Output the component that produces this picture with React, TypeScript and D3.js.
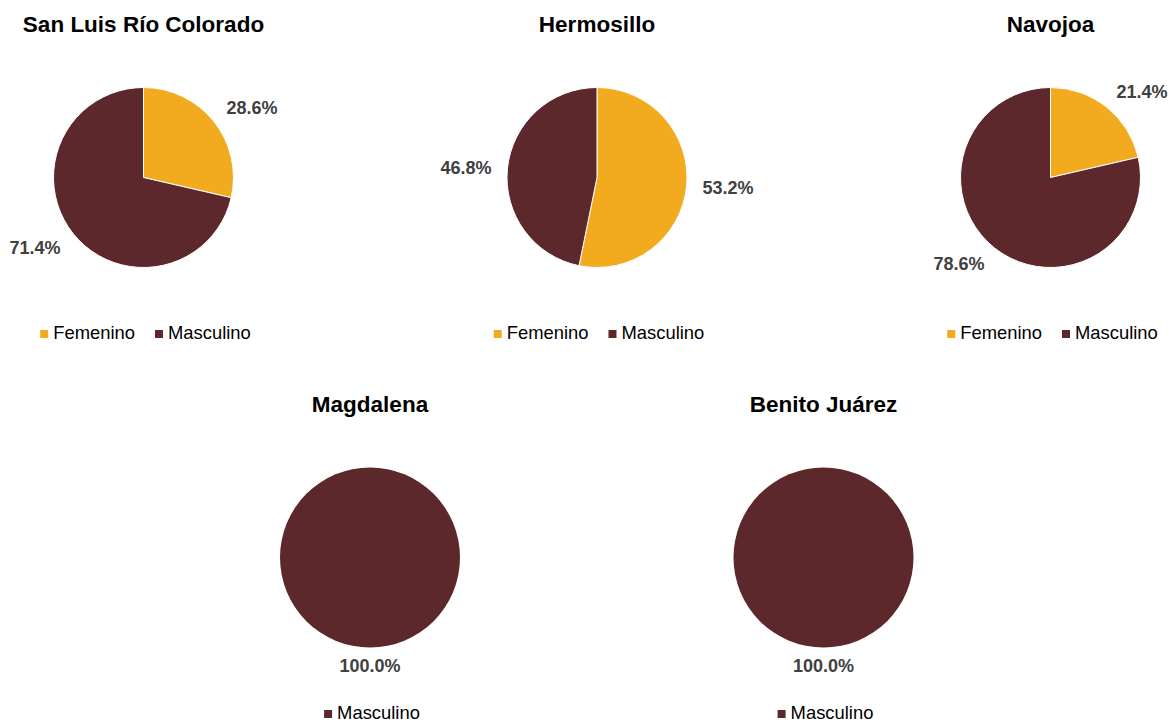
import React from "react";
import * as d3 from "d3";

const municipios = ["San Luis Río Colorado", "Hermosillo", "Navojoa", "Magdalena", "Benito Juárez"];
const categorias = ["Femenino", "Masculino"];
const femenino = [28.6, 53.2, 21.4, 0, 0];
const masculino = [71.4, 46.8, 78.6, 100, 100];

const COLORS: Record<string, string> = { Femenino: "#F2AA1F", Masculino: "#5C282C" };
const FONT = "'Liberation Sans', Arial, Helvetica, sans-serif";
const W = 1173;
const H = 724;
const R = 90;

let measureCtx: CanvasRenderingContext2D | null = null;
function textWidth(t: string, font: string) {
  if (!measureCtx) measureCtx = document.createElement("canvas").getContext("2d");
  if (!measureCtx) return t.length * 9;
  measureCtx.font = font;
  return measureCtx.measureText(t).width;
}

function layout(i: number) {
  const row = i < 3 ? 0 : 1;
  const col = row === 0 ? i : i - 3;
  const step = 453.5;
  const cx = row === 0 ? 143.5 + step * col : 370 + step * col;
  const cy = row === 0 ? 177.5 : 557.5;
  return { cx, cy };
}

function Pie({ idx }: { idx: number }) {
  const { cx, cy } = layout(idx);
  const data = categorias
    .map((c, k) => ({ cat: c, value: k === 0 ? femenino[idx] : masculino[idx] }))
    .filter((d) => d.value > 0);
  const pie = d3.pie<{ cat: string; value: number }>().sort(null).value((d) => d.value);
  const arcs = pie(data);
  const arc = d3.arc<d3.PieArcDatum<{ cat: string; value: number }>>().innerRadius(0).outerRadius(R);
  const labelFont = `bold 18px ${FONT}`;
  const legendSize = 18.4;
  const legendFont = `${legendSize}px ${FONT}`;

  const sq = 8;
  const gapSqText = 5;
  const gapItems = 20;
  const items = data.map((d) => ({ cat: d.cat, w: textWidth(d.cat, legendFont) }));
  const totalW = items.reduce((s, it) => s + sq + gapSqText + it.w, 0) + gapItems * (items.length - 1);
  let lx = cx + 2 - totalW / 2;
  const ly = cy + 161.5;

  return (
    <g>
      <text x={cx} y={cy - 145.5} textAnchor="middle" fontFamily={FONT} fontWeight="bold" fontSize={22.5} fill="#000">
        {municipios[idx]}
      </text>
      <g transform={`translate(${cx},${cy})`}>
        {arcs.map((a, k) => (
          <path key={k} d={arc(a) || ""} fill={COLORS[a.data.cat]} stroke="#fff" strokeWidth={arcs.length > 1 ? 1 : 0} />
        ))}
        {arcs.map((a, k) => {
          const mid = (a.startAngle + a.endAngle) / 2;
          const s = Math.sin(mid);
          const c = Math.cos(mid);
          const ax = (R + 16) * s;
          const ay = -(R + 11) * c;
          const label = `${a.data.value.toFixed(1)}%`;
          const w = textWidth(label, labelFont);
          const h = 14;
          const sx = Math.abs(s) < 0.15 ? 0 : Math.sign(s);
          const sy = Math.abs(c) < 0.15 ? 0 : Math.sign(c);
          const lcx = ax + (sx * w) / 2;
          const lcy = ay - (sy * h) / 2;
          return (
            <text key={"l" + k} x={lcx} y={lcy + 6.5} textAnchor="middle" fontFamily={FONT} fontWeight="bold" fontSize={18} fill="#404040">
              {label}
            </text>
          );
        })}
      </g>
      <g>
        {items.map((it, k) => {
          const x0 = lx;
          lx += sq + gapSqText + it.w + gapItems;
          return (
            <g key={k}>
              <rect x={x0} y={ly - 9} width={sq} height={sq} fill={COLORS[it.cat]} />
              <text x={x0 + sq + gapSqText} y={ly} fontFamily={FONT} fontSize={legendSize} fill="#000">
                {it.cat}
              </text>
            </g>
          );
        })}
      </g>
    </g>
  );
}

export default function App() {
  return (
    <svg width={W} height={H} style={{ position: "absolute", left: 0, top: 0, background: "#fff" }}>
      <rect width={W} height={H} fill="#fff" />
      {municipios.map((_, i) => (
        <Pie key={i} idx={i} />
      ))}
    </svg>
  );
}
